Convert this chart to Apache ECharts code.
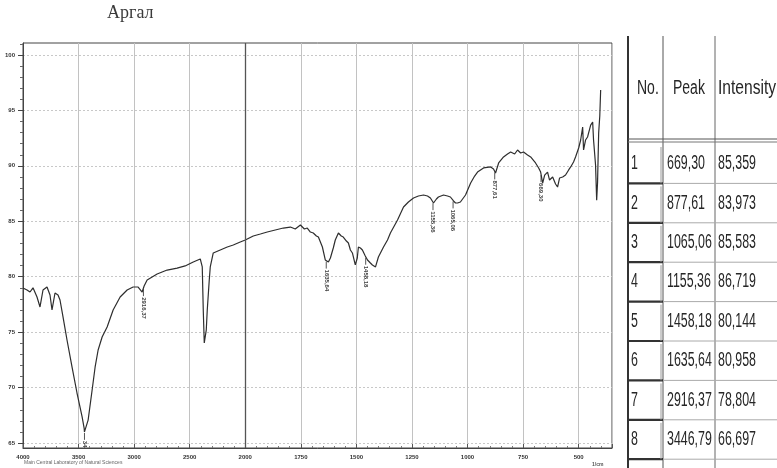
<!DOCTYPE html>
<html><head><meta charset="utf-8">
<script src="https://cdn.jsdelivr.net/npm/echarts@6/dist/echarts.min.js"></script>
<style>html,body{margin:0;padding:0;background:#fff}#c{width:777px;height:468px}</style>
</head><body><div id="c"></div>
<script>
// ---- data (wavenumber cm-1, %T) ----
const wavenumbers = [
4000,3964,3937,3910,3874,3847,3820,3784,3757,3739,
3712,3685,3667,3640,3604,3559,3514,3468,3450,3447,
3414,3378,3351,3324,3288,3243,3189,3126,3063,3009,
2964,2928,2910,2883,2838,2793,2748,2703,2658,2613,
2541,2468,2405,2387,2378,2369,2351,2342,2324,2315,
2288,2225,2162,2108,2045,2000,1964,1932,1901,1865,
1829,1797,1775,1752,1734,1721,1707,1694,1680,1671,
1653,1640,1626,1617,1604,1595,1581,1568,1559,1545,
1536,1527,1518,1505,1496,1491,1482,1473,1460,1450,
1437,1428,1414,1401,1378,1360,1347,1315,1288,1266,
1243,1221,1198,1180,1167,1153,1140,1131,1108,1090,
1077,1063,1054,1045,1032,1009,986,968,955,928,
896,883,874,860,838,820,806,788,775,761,
748,730,716,694,680,671,662,653,640,631,
617,604,595,586,572,559,545,536,523,514,
500,491,482,478,469,460,446,437,433,424,
419,415,410,405,401];
const transmittance = [
78.98,78.8,78.62,79.0,78.17,77.27,78.8,79.07,78.35,77.0,
78.53,78.35,77.9,76.37,74.29,71.86,69.51,67.35,66.35,66.0,
67.07,69.78,71.86,73.39,74.56,75.46,77.0,78.17,78.8,79.07,
79.07,78.62,79.16,79.7,79.97,80.24,80.42,80.6,80.69,80.78,
80.97,81.33,81.6,80.88,77.0,74.02,75.19,77.0,79.7,80.88,
82.14,82.41,82.68,82.86,83.13,83.31,83.67,83.85,84.03,84.21,
84.39,84.48,84.3,84.66,84.3,84.39,84.03,83.94,83.67,83.58,
82.68,81.51,81.33,81.69,82.59,83.31,83.94,83.67,83.58,83.22,
83.04,82.41,82.14,81.06,81.69,82.68,82.59,82.41,81.87,81.51,
81.24,81.06,80.88,81.78,82.68,83.31,83.94,85.11,86.29,86.74,
87.1,87.28,87.37,87.28,87.1,86.65,87.01,87.19,87.37,87.28,
87.19,86.83,86.65,86.65,86.74,87.37,88.45,89.08,89.44,89.81,
89.9,89.72,89.35,90.26,90.8,91.07,91.25,91.07,91.43,91.16,
91.25,90.98,90.8,90.26,89.81,89.44,88.45,89.17,89.44,88.72,
88.99,88.36,88.09,88.9,88.99,89.17,89.63,89.9,90.35,90.8,
91.61,92.33,93.5,91.43,92.33,92.6,93.68,93.95,92.33,90.08,
86.9,88.5,92.96,94.5,96.84];

const peakNo = [1,2,3,4,5,6,7,8];
const peaks = [669.30, 877.61, 1065.06, 1155.36, 1458.18, 1635.64, 2916.37, 3446.79];
const intensities = [85.359, 83.973, 85.583, 86.719, 80.144, 80.958, 78.804, 66.697];

const xTickLabels = ['4000','3500','3000','2500','2000','1750','1500','1250','1000','750','500'];
const yTicks = [65,70,75,80,85,90,95,100];
const tableHeaders = ['No.','Peak','Intensity'];
const title = 'Аргал';

// ---- scale helpers (instrument uses a change of scale at 2000 cm-1) ----
function toU(w){ return w >= 2000 ? (4000 - w) / 500 : 4 + (2000 - w) / 250; }
function interp(w){
  for (let i = 0; i < wavenumbers.length - 1; i++){
    const a = wavenumbers[i], b = wavenumbers[i+1];
    if (w <= a && w >= b){
      const t = (a - w) / (a - b);
      return transmittance[i] + t * (transmittance[i+1] - transmittance[i]);
    }
  }
  return transmittance[transmittance.length-1];
}
const fmt = (v, d) => v.toFixed(d).replace('.', ',');

const yMin = 64.55, yMax = 101.08;
const yMinor = [];
for (let v = 65; v <= 101; v++) if (v % 5 !== 0) yMinor.push(v);

// ---- table graphics ----
const g = [];
const L = (x1,y1,x2,y2,w,c)=>({type:'line', silent:true, shape:{x1,y1,x2,y2}, style:{stroke:c, lineWidth:w}});
const T = (x,y,txt,size,sx)=>({type:'text', silent:true, x, y, scaleX:sx, style:{text:txt, font: size+'px "Liberation Sans", Arial, sans-serif', fill:'#262626', verticalAlign:'middle', align:'left'}});
g.push(L(628,36,628,468,2,'#333'));
g.push(L(663,36,663,468,1,'#555'));
g.push(L(715,36,715,468,1,'#666'));
g.push(L(628,139,777,139,1,'#555'));
g.push(L(628,142,777,142,1,'#777'));
g.push(T(637,88,tableHeaders[0],20,0.7));
g.push(T(673,88,tableHeaders[1],20,0.7));
g.push(T(718,88,tableHeaders[2],20,0.78));
const rowTop = 144, rowH = 39.4;
peaks.forEach((p,i)=>{
  const yb = rowTop + rowH*(i+1);
  const yc = rowTop + rowH*i + rowH/2;
  g.push(L(663,yb,777,yb,1,'#aaa'));
  g.push(L(628,yb,663,yb,2.2,'#333'));
  g.push(L(661,rowTop+rowH*i+3,661,yb,1,'#999'));
  g.push(T(631,yc,String(peakNo[i]),20,0.62));
  g.push(T(667,yc,fmt(p,2),20,0.62));
  g.push(T(718,yc,fmt(intensities[i],3),20,0.62));
});
g.push({type:'text', silent:true, x:107, y:4, style:{text:title, font:'18px "Liberation Serif", "DejaVu Serif", serif', fill:'#3a3a3a'}});
g.push({type:'text', silent:true, x:24, y:460, style:{text:'Main Central Laboratory of Natural Sciences', font:'5px "Liberation Sans", sans-serif', fill:'#666'}});
g.push({type:'text', silent:true, x:592, y:462, style:{text:'1/cm', font:'bold 5px "Liberation Sans", sans-serif', fill:'#555'}});

const chart = echarts.init(document.getElementById('c'), null, {renderer:'canvas'});
chart.setOption({
  animation:false,
  backgroundColor:'#fff',
  grid:{left:23, right:165, top:43, bottom:20, show:true, borderColor:'#444', borderWidth:1},
  xAxis:{
    type:'value', min:0, max:10.6, interval:1,
    axisLine:{show:true, lineStyle:{color:'#444'}},
    axisTick:{show:true, inside:true, length:4, lineStyle:{color:'#555'}},
    minorTick:{show:true, splitNumber:5, length:2, lineStyle:{color:'#777'}},
    axisLabel:{fontSize:6, fontWeight:'bold', color:'#333', margin:6,
      formatter:(v)=>{const i=Math.round(v); return (Math.abs(v-i)<1e-6 && i<xTickLabels.length)? xTickLabels[i] : '';}},
    splitLine:{show:true, lineStyle:{color:'#c2c2c2', width:1}}
  },
  yAxis:[{
    type:'value', min:yMin, max:yMax,
    axisLine:{show:true, lineStyle:{color:'#444'}},
    axisTick:{show:true, customValues:yTicks, length:5, lineStyle:{color:'#444'}},
    axisLabel:{show:true, customValues:yTicks, fontSize:6, fontWeight:'bold', color:'#333', margin:8},
    splitLine:{show:true, lineStyle:{color:'#c8c8c8', type:[2,2]}}
  },{
    type:'value', min:yMin, max:yMax, position:'left',
    axisLine:{show:false},
    axisTick:{show:true, customValues:yMinor, length:3, lineStyle:{color:'#666'}},
    axisLabel:{show:false}, splitLine:{show:false}
  }],
  series:[{
    type:'line', showSymbol:false, silent:true,
    data: wavenumbers.map((w,i)=>[toU(w), transmittance[i]]),
    lineStyle:{color:'#2e2e2e', width:1.2},
    markLine:{silent:true, symbol:'none', label:{show:false},
      lineStyle:{color:'#555', width:1.3, type:'solid'},
      data:[{xAxis: toU(2000)}]}
  },{
    type:'custom', silent:true, clip:true,
    data: peaks.map((p,i)=>[toU(p), interp(p), i]),
    renderItem:(params, api)=>{
      const pt = api.coord([api.value(0), api.value(1)]);
      const label = fmt(peaks[api.value(2)], 2);
      return {type:'group', children:[
        {type:'line', shape:{x1:pt[0], y1:pt[1]+1, x2:pt[0], y2:pt[1]+8}, style:{stroke:'#555', lineWidth:1}},
        {type:'text', x:pt[0], y:pt[1]+9, rotation:-Math.PI/2,
          style:{text:label, font:'bold 6px "Liberation Sans", sans-serif', fill:'#444', align:'left', verticalAlign:'middle'}}
      ]};
    }
  }],
  graphic: g
});
</script></body></html>
